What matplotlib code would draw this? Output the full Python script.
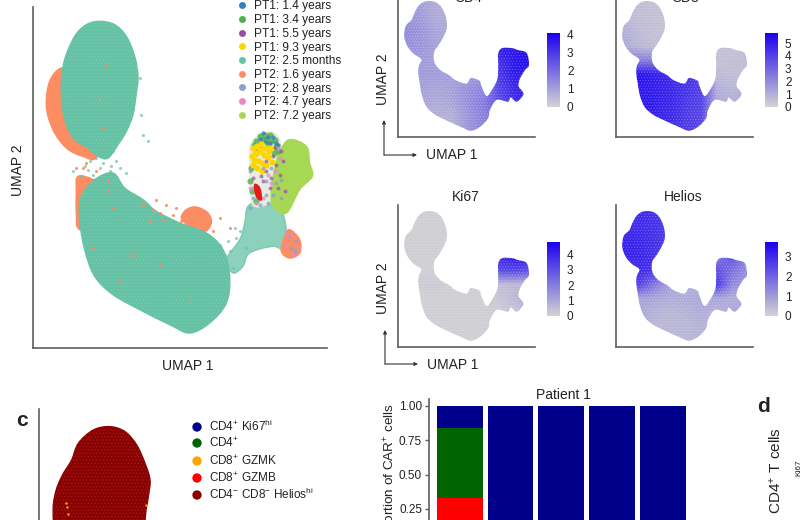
import matplotlib
matplotlib.use("Agg")
import matplotlib.pyplot as plt
import numpy as np
from matplotlib.cm import ScalarMappable
from matplotlib.colors import LinearSegmentedColormap, Normalize
from matplotlib.lines import Line2D
from matplotlib.patches import PathPatch
from matplotlib.path import Path

plt.rcParams["font.family"] = ["Liberation Sans", "DejaVu Sans"]
plt.rcParams["mathtext.default"] = "regular"
plt.rcParams["hatch.linewidth"] = 0.6

# patients / timepoints
pt_labels = ["PT1: 1.4 years", "PT1: 3.4 years", "PT1: 5.5 years", "PT1: 9.3 years", "PT2: 2.5 months",
             "PT2: 1.6 years", "PT2: 2.8 years", "PT2: 4.7 years", "PT2: 7.2 years"]
pt_colors = ["#377eb8", "#4daf4a", "#984ea3", "#ffd500", "#66c2a5", "#fc8d62", "#8da0cb", "#e78ac3", "#a6d854"]

# cloud outlines (UMAP 1, UMAP 2, arbitrary units)
crescent = [(85, 840), (50, 800), (40, 725), (60, 655), (100, 600), (150, 575), (190, 575), (190, 700), (130, 820)]
lobe = [(200, 980), (245, 970), (280, 935), (305, 875), (315, 815), (310, 765), (300, 700), (280, 650),
        (255, 610), (225, 570), (195, 575), (165, 600), (125, 625), (100, 670), (88, 725), (85, 795),
        (95, 865), (125, 935), (160, 970)]
body = [(240, 525), (275, 480), (330, 445), (370, 410), (440, 375), (520, 345), (570, 295), (590, 215),
        (580, 135), (530, 75), (470, 45), (410, 70), (320, 115), (240, 160), (185, 215), (155, 295),
        (140, 385), (145, 455), (185, 505)]
body_orange = [(135, 515), (190, 500), (240, 450), (220, 350), (140, 355), (130, 405), (130, 465)]
patch_orange = [(490, 423), (525, 405), (535, 375), (515, 350), (470, 365), (445, 390), (460, 415)]
neck = [(690, 445), (740, 425), (760, 355), (755, 295), (720, 305), (650, 285), (630, 245), (600, 225),
        (580, 265), (620, 325), (635, 375), (645, 425)]
lime = [(770, 625), (820, 605), (830, 555), (838, 515), (800, 475), (760, 405), (720, 425), (715, 465),
        (725, 535), (740, 590)]
knob = [(770, 355), (800, 325), (800, 285), (770, 270), (745, 290), (755, 335)]
head_mix = [(700, 647), (735, 635), (745, 585), (740, 525), (745, 470), (720, 440), (660, 430), (650, 545), (655, 615)]
red_spot = [(665, 490), (680, 480), (685, 445), (670, 455)]

# stray cells
green_u1 = [170, 200, 230, 180, 120, 250, 215, 155, 240, 330, 610, 640, 590, 570, 620, 600, 190, 210, 235, 165, 145,
            260, 280, 225, 320, 345, 325, 560, 575, 585, 605]
green_u2 = [560, 540, 530, 520, 530, 560, 510, 545, 590, 640, 330, 300, 290, 250, 350, 240, 570, 555, 545, 535, 515,
            540, 525, 575, 810, 620, 700, 310, 280, 320, 360]
orange_u1 = [150, 190, 225, 240, 180, 350, 400, 420, 380, 560, 540, 590, 260, 300, 200, 220, 470, 380, 130, 170, 160,
             330, 360, 370, 390, 430, 445, 225, 210]
orange_u2 = [540, 530, 500, 420, 300, 380, 430, 400, 405, 390, 350, 360, 200, 280, 750, 850, 150, 250, 540, 500, 555,
             430, 415, 445, 385, 420, 380, 470, 660]
gold_u1 = [660, 672, 684, 696, 708, 668, 680, 692, 704, 664, 676, 688, 700, 672, 686, 660, 716, 656, 712]
gold_u2 = [600, 606, 612, 600, 590, 585, 590, 578, 572, 565, 560, 556, 548, 540, 530, 550, 558, 575, 600]
dkgreen_u1 = [680, 695, 710, 725, 670, 690, 715, 730, 665, 735, 705, 700, 682, 722, 668, 652, 658, 670, 655, 662]
dkgreen_u2 = [635, 640, 640, 625, 620, 625, 620, 605, 600, 590, 610, 628, 610, 585, 585, 500, 470, 440, 540, 610]
blue_u1 = [690, 705, 720, 680, 712, 728, 698, 675, 735]
blue_u2 = [645, 632, 634, 628, 615, 615, 618, 610, 610]
purple_u1 = [720, 730, 700, 715, 740, 690, 710, 735, 660, 670, 750, 725, 700, 755, 685, 745]
purple_u2 = [575, 550, 530, 510, 520, 500, 480, 480, 510, 470, 560, 600, 560, 470, 515, 590]
mauve_u1 = [650, 660, 700, 715, 730, 745, 660, 680, 700, 650, 720, 745, 775, 790, 770, 785, 690, 705]
mauve_u2 = [530, 450, 500, 540, 495, 505, 480, 430, 460, 420, 460, 450, 300, 320, 335, 290, 540, 435]
pink_u1 = [690, 725, 740, 650, 760, 780, 760, 775, 795, 735, 670, 715, 705]
pink_u2 = [450, 530, 570, 480, 310, 280, 345, 340, 300, 600, 435, 495, 520]

# full silhouette used by the feature plots
cloud = [(200, 980), (245, 970), (280, 935), (305, 875), (315, 815), (310, 765), (285, 705), (260, 660),
         (235, 620), (230, 570), (240, 525), (275, 480), (330, 445), (370, 410), (440, 385), (470, 425),
         (525, 405), (535, 375), (570, 295), (612, 353), (640, 420), (645, 510), (645, 600), (670, 640),
         (735, 640), (770, 627), (828, 605), (843, 518), (818, 483), (785, 420), (776, 367), (800, 330),
         (806, 302), (764, 254), (725, 285), (708, 254), (635, 267), (592, 195), (580, 135), (530, 75),
         (470, 45), (410, 70), (320, 115), (240, 160), (185, 215), (155, 295), (140, 385), (130, 465),
         (135, 515), (150, 560), (100, 600), (60, 655), (40, 725), (50, 800), (85, 840), (95, 865),
         (125, 935), (160, 970)]

# expression read in a coarse grid, rows u2 950..50, cols u1 50..850
cd4 = [[1.2, 1.0, 0.8, 0.8, 0.8, 0.8, 3.6, 3.7, 3.8],
       [1.3, 1.1, 0.8, 0.8, 0.8, 0.8, 3.6, 3.7, 3.8],
       [1.4, 1.2, 0.9, 0.8, 0.8, 0.8, 3.6, 3.8, 3.8],
       [1.3, 1.2, 1.0, 0.8, 0.8, 0.8, 3.6, 3.7, 3.8],
       [1.2, 1.1, 1.0, 0.8, 0.9, 1.0, 3.2, 3.7, 3.9],
       [1.2, 1.1, 1.1, 1.0, 1.0, 1.2, 3.0, 3.6, 3.6],
       [1.1, 1.0, 0.9, 1.0, 1.3, 1.5, 2.8, 3.4, 3.6],
       [1.0, 0.9, 0.8, 0.9, 1.3, 1.7, 2.6, 3.2, 3.6],
       [0.9, 0.8, 0.7, 0.7, 1.2, 1.6, 1.8, 1.8, 1.8],
       [0.9, 0.8, 0.7, 0.7, 1.2, 1.6, 1.8, 1.8, 1.8]]
cd8 = [[0.6, 0.6, 0.5, 0.5, 0.5, 0.5, 0.5, 0.5, 0.7],
       [0.8, 0.6, 0.5, 0.5, 0.5, 0.5, 0.5, 0.5, 0.7],
       [1.0, 0.7, 0.5, 0.5, 0.5, 0.5, 0.5, 0.5, 0.7],
       [1.2, 0.8, 0.6, 0.6, 0.5, 0.5, 0.5, 0.5, 0.7],
       [2.4, 2.4, 2.4, 1.5, 1.5, 1.5, 0.5, 0.6, 0.6],
       [5.0, 5.3, 5.0, 4.6, 4.5, 4.0, 0.7, 0.6, 0.6],
       [5.2, 5.2, 5.0, 4.8, 4.4, 4.0, 1.0, 0.8, 1.0],
       [5.2, 5.2, 5.0, 4.8, 4.3, 4.0, 1.2, 1.0, 1.5],
       [5.2, 5.2, 5.0, 4.7, 4.2, 3.9, 1.0, 1.0, 1.0],
       [5.2, 5.2, 5.0, 4.6, 4.2, 3.9, 1.0, 1.0, 1.0]]
ki67 = [[0.1, 0.1, 0.1, 0.1, 0.1, 0.1, 3.8, 4.3, 4.3],
        [0.1, 0.1, 0.1, 0.1, 0.1, 0.1, 3.8, 4.3, 4.3],
        [0.1, 0.1, 0.1, 0.1, 0.1, 0.1, 3.8, 4.3, 4.3],
        [0.1, 0.1, 0.1, 0.1, 0.1, 0.1, 3.8, 4.3, 4.3],
        [0.1, 0.1, 0.1, 0.1, 0.1, 0.1, 3.2, 3.2, 3.0],
        [0.2, 0.2, 0.2, 0.1, 0.1, 0.1, 0.5, 0.6, 0.6],
        [0.1, 0.1, 0.1, 0.1, 0.1, 0.1, 0.3, 0.6, 1.0],
        [0.1, 0.1, 0.1, 0.1, 0.1, 0.1, 0.2, 0.3, 0.8],
        [0.1, 0.1, 0.1, 0.1, 0.1, 0.1, 0.1, 0.1, 0.1],
        [0.1, 0.1, 0.1, 0.1, 0.1, 0.1, 0.1, 0.1, 0.1]]
helios = [[2.9, 3.0, 2.9, 2.7, 0.7, 0.7, 1.6, 2.4, 1.5],
          [3.1, 3.0, 2.9, 2.7, 0.7, 0.7, 1.6, 2.4, 1.5],
          [3.2, 3.1, 2.9, 2.7, 0.7, 0.7, 1.6, 2.4, 1.5],
          [3.2, 3.1, 2.9, 2.7, 0.7, 0.7, 1.6, 2.4, 1.5],
          [3.0, 3.0, 2.8, 2.5, 0.7, 0.7, 2.4, 1.7, 1.2],
          [2.6, 2.6, 1.6, 0.9, 0.6, 0.7, 2.8, 1.3, 1.0],
          [1.2, 0.9, 0.8, 0.7, 0.7, 0.8, 0.8, 0.7, 0.7],
          [1.1, 0.8, 0.6, 0.5, 0.6, 0.7, 0.6, 0.8, 0.9],
          [0.9, 0.7, 0.5, 0.5, 0.5, 0.6, 0.6, 0.6, 0.6],
          [0.9, 0.7, 0.5, 0.5, 0.5, 0.6, 0.6, 0.6, 0.6]]
feature_max = [4.1, 5.8, 4.8, 3.76]
feature_ticks = [[0, 1, 2, 3, 4], [0, 1, 2, 3, 4, 5], [0, 1, 2, 3, 4], [0, 1, 2, 3]]
feature_titles = ["CD4", "CD8", "Ki67", "Helios"]

# panel c
cluster_labels = [r"CD4$^{+}$ Ki67$^{hi}$", r"CD4$^{+}$", r"CD8$^{+}$ GZMK", r"CD8$^{+}$ GZMB",
                  r"CD4$^{-}$ CD8$^{-}$ Helios$^{hi}$"]
cluster_colors = ["#00008b", "#006400", "#ffa500", "#ff0000", "#8b0000"]
helios_blob = [(213, 860), (258, 845), (293, 805), (318, 750), (333, 700), (328, 650), (318, 580), (300, 340),
               (60, 340), (43, 580), (48, 655), (68, 710), (98, 760), (118, 810), (163, 850)]
gzmk_u1 = [80, 84, 88, 320]
gzmk_u2 = [632, 618, 598, 625]

# patient 1 bars (only the top is in the picture)
bar_x = [1, 2, 3, 4, 5]
bar_ki67 = [0.16, 1, 1, 1, 1]
bar_cd4 = [0.51, 0, 0, 0, 0]
bar_gzmb = [0.33, 0, 0, 0, 0]

W, H = 800, 520
GREY = "#5f5f5f"
TXT = "#222222"

fig = plt.figure(figsize=(W / 100, H / 100), dpi=100)


def px_axes(left, top, right, bottom):
    return fig.add_axes([left / W, 1 - bottom / H, (right - left) / W, (bottom - top) / H])


def smooth_path(points):
    # closed curve through the outline points (catmull-rom as bezier)
    pts = np.array(points, dtype=float)
    before = np.roll(pts, 1, axis=0)
    after = np.roll(pts, -1, axis=0)
    after2 = np.roll(pts, -2, axis=0)
    verts = [pts[0]]
    codes = [Path.MOVETO]
    for a, b, c, d in zip(before, pts, after, after2):
        verts += [b + (c - a) / 6, c - (d - b) / 6, c]
        codes += [Path.CURVE4, Path.CURVE4, Path.CURVE4]
    return Path(verts, codes)


def blob(ax, points, color, z=2, alpha=1.0, speck=None):
    patch = PathPatch(smooth_path(points), facecolor=color, edgecolor=color, lw=1.0, zorder=z, alpha=alpha)
    ax.add_patch(patch)
    if speck:
        ax.add_patch(PathPatch(smooth_path(points), facecolor="none", edgecolor=speck, lw=0, hatch=".....", zorder=z))
    return patch


def clean(ax):
    ax.spines["top"].set_visible(False)
    ax.spines["right"].set_visible(False)
    ax.spines["left"].set_color(GREY)
    ax.spines["bottom"].set_color(GREY)
    ax.spines["left"].set_linewidth(1.2)
    ax.spines["bottom"].set_linewidth(1.2)
    ax.set_xticks([])
    ax.set_yticks([])


# main UMAP
ax = px_axes(33, 7, 327, 348)
clean(ax)
ax.set_xlim(0, 882)
ax.set_ylim(0, 1023)
blob(ax, crescent, pt_colors[5], 2)
blob(ax, body_orange, pt_colors[5], 2)
blob(ax, patch_orange, pt_colors[5], 2)
blob(ax, lobe, pt_colors[4], 3, speck=(1, 1, 1, 0.10))
blob(ax, body, pt_colors[4], 3, speck=(1, 1, 1, 0.10))
blob(ax, neck, pt_colors[4], 3, alpha=0.75)
blob(ax, head_mix, "#e6ece0", 3)
blob(ax, lime, pt_colors[8], 4)
blob(ax, knob, pt_colors[5], 4)
ax.scatter(green_u1, green_u2, s=5, color=pt_colors[4], alpha=0.7, lw=0, zorder=5)
ax.scatter(orange_u1, orange_u2, s=5, color=pt_colors[5], alpha=0.9, lw=0, zorder=5)
ax.scatter(dkgreen_u1, dkgreen_u2, s=20, color=pt_colors[1], alpha=0.8, lw=0, zorder=5)
ax.scatter(blue_u1, blue_u2, s=10, color=pt_colors[0], alpha=0.8, lw=0, zorder=5)
ax.scatter(gold_u1, gold_u2, s=20, color=pt_colors[3], lw=0, zorder=6)
ax.scatter(purple_u1, purple_u2, s=8, color=pt_colors[2], alpha=0.7, lw=0, zorder=6)
ax.scatter(mauve_u1, mauve_u2, s=8, color=pt_colors[6], alpha=0.8, lw=0, zorder=6)
ax.scatter(pink_u1, pink_u2, s=8, color=pt_colors[7], alpha=0.8, lw=0, zorder=6)
blob(ax, red_spot, "#e41a1c", 7)

# feature plots
cmap = LinearSegmentedColormap.from_list("grey_blue", ["#d3d3d3", "#1a00f0"])
feature_data = [cd4, cd8, ki67, helios]
feature_boxes = [(398, -5, 535, 137), (616, -5, 753, 137), (398, 205, 535, 347), (616, 205, 753, 347)]
bar_boxes = [(547, 33, 560, 107), (765, 33, 778, 107), (547, 242, 560, 316), (765, 242, 778, 316)]
for values, box, cbox, vmax, ticks in zip(feature_data, feature_boxes, bar_boxes, feature_max, feature_ticks):
    fax = px_axes(*box)
    clean(fax)
    norm = Normalize(0, vmax)
    im = fax.imshow(values, extent=(0, 900, 0, 1000), origin="upper", cmap=cmap, norm=norm,
                    interpolation="bilinear", aspect="auto", zorder=2)
    fax.set_xlim(0, 882)
    fax.set_ylim(0, 1023)
    im.set_clip_path(PathPatch(smooth_path(cloud), transform=fax.transData))
    fax.add_patch(PathPatch(smooth_path(cloud), facecolor="none", edgecolor=(1, 1, 1, 0.22), lw=0, hatch="......",
                            zorder=3))
    cax = px_axes(*cbox)
    cb = fig.colorbar(ScalarMappable(norm=norm, cmap=cmap), cax=cax)
    cb.outline.set_visible(False)
    cb.set_ticks(ticks)
    cax.tick_params(length=0, labelsize=8.5, pad=5, labelcolor=TXT)

# panel c
cax2 = px_axes(39, 409, 189, 600)
cax2.axis("off")
cax2.plot([0, 0], [340, 913], color=GREY, lw=1.2, clip_on=False)
cax2.set_xlim(0, 450)
cax2.set_ylim(340, 913)
blob(cax2, helios_blob, cluster_colors[4], 2, speck=(1, 1, 1, 0.10))
cax2.scatter(gzmk_u1, gzmk_u2, s=3, color=cluster_colors[2], lw=0, zorder=3)

# stacked bars
bax = px_axes(429, 399, 693.4, 550)
bax.bar(bar_x, bar_gzmb, width=0.905, color=cluster_colors[3])
bax.bar(bar_x, bar_cd4, width=0.905, bottom=bar_gzmb, color=cluster_colors[1])
bax.bar(bar_x, bar_ki67, width=0.905, bottom=np.add(bar_gzmb, bar_cd4), color=cluster_colors[0])
bax.set_xlim(0.396, 5.6)
bax.set_ylim(-0.05, 1.05)
bax.set_yticks([0, 0.25, 0.5, 0.75, 1.0], ["0.00", "0.25", "0.50", "0.75", "1.00"])
bax.set_xticks([])
for side in ["top", "right", "bottom"]:
    bax.spines[side].set_visible(False)
bax.spines["left"].set_color(GREY)
bax.spines["left"].set_linewidth(1.2)
bax.tick_params(axis="y", length=3, width=1, color=GREY, labelsize=8.5, pad=2, labelcolor=TXT)

# overlay in picture pixels for loose text, arrows and legends
ov = fig.add_axes([0, 0, 1, 1], facecolor="none")
ov.set_xlim(0, W)
ov.set_ylim(H, 0)
ov.axis("off")


def label(x, y, s, size=10, rot=0, ha="center", va="center", weight="normal"):
    ov.text(x, y, s, fontsize=size, rotation=rot, ha=ha, va=va, fontweight=weight, color=TXT, clip_on=False)


def arrows(x, y0, y1, x1):
    ov.annotate("", xy=(x, y1), xytext=(x, y0), arrowprops=dict(arrowstyle="-|>", color="#333333", lw=0.8,
                                                                 mutation_scale=5, shrinkA=0, shrinkB=0))
    ov.annotate("", xy=(x1, y0), xytext=(x, y0), arrowprops=dict(arrowstyle="-|>", color="#333333", lw=0.8,
                                                                  mutation_scale=5, shrinkA=0, shrinkB=0))


label(188, 366, "UMAP 1")
label(18, 170, "UMAP 2", rot=90)
arrows(384, 155, 120, 417)
label(452, 155, "UMAP 1")
label(383, 79, "UMAP 2", rot=90)
arrows(385, 364, 330, 418)
label(453, 365, "UMAP 1")
label(383, 288, "UMAP 2", rot=90)
label(468, 1.5, feature_titles[0], va="baseline")
label(685, 1.5, feature_titles[1], va="baseline")
label(466, 197, feature_titles[2])
label(683, 197, feature_titles[3])
label(22, 421, "c", size=15, weight="bold")
label(763, 407, "d", size=15, weight="bold")
label(391, 403, r"Proportion of CAR$^{+}$ cells", size=9.7, rot=90, va="top")
label(563, 395, "Patient 1")
label(776, 471, r"CD4$^{+}$ T cells", size=11, rot=90)
label(799, 468, "Ki67", size=6, rot=90)

handles = [Line2D([], [], ls="", marker="o", ms=5, mew=0, color=c) for c in pt_colors]
ov.legend(handles, pt_labels, loc="upper left", bbox_to_anchor=(238, 0.5), bbox_transform=ov.transData, frameon=False,
          fontsize=8.6, labelspacing=0.14, borderpad=0, borderaxespad=0, handlelength=0.6, handletextpad=0.75,
          labelcolor=TXT)

cluster_rows = [427, 443, 461, 478, 495]
ov.scatter([197] * 5, cluster_rows, s=45, c=cluster_colors, lw=0)
for row, text in zip(cluster_rows, cluster_labels):
    ov.text(209, row + 4, text, fontsize=8.5, va="baseline", color=TXT)

fig.savefig("out.png", dpi=100)
